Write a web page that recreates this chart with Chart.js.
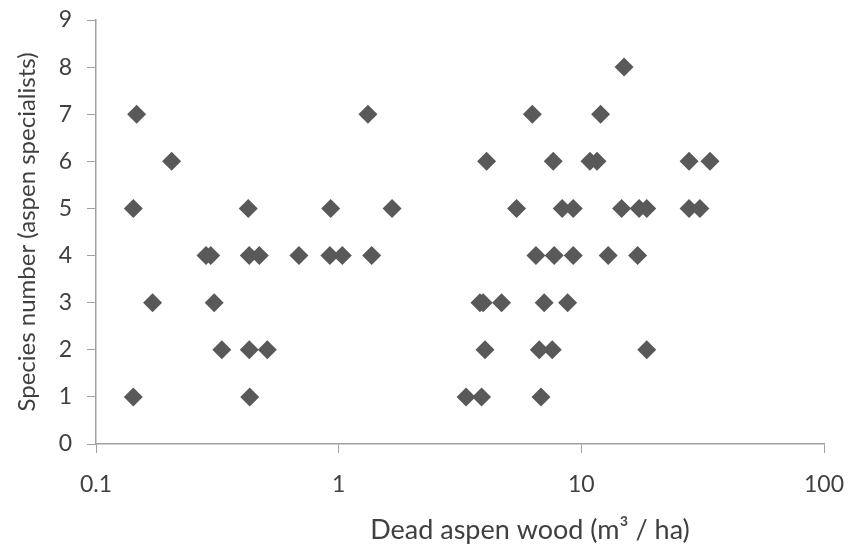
<!DOCTYPE html>
<html>
<head>
<meta charset="utf-8">
<title>Dead aspen wood vs species number</title>
<script src="https://cdn.jsdelivr.net/npm/chart.js@4/dist/chart.umd.min.js"></script>
<style>
  html, body { margin: 0; padding: 0; background: #fff; }
  #wrap { width: 848px; height: 550px; position: relative; }
</style>
</head>
<body>
<div id="wrap"><canvas id="chart"></canvas></div>
<script>
// Dead aspen wood (m3/ha), grouped by species number
const species8 = [15.0];
const species7 = [0.147, 1.32, 6.28, 12.0];
const species6 = [0.205, 4.07, 7.66, 10.85, 11.6, 27.8, 33.9];
const species5 = [0.1425, 0.424, 0.927, 1.66, 5.41, 8.34, 9.26, 14.66, 17.3, 18.6, 27.8, 30.8];
const species4 = [0.284, 0.297, 0.428, 0.471, 0.686, 0.92, 1.035, 1.368, 6.5, 7.73, 9.26, 12.9, 17.06];
const species3 = [0.171, 0.307, 3.82, 3.94, 4.69, 7.03, 8.78];
const species2 = [0.33, 0.428, 0.508, 4.01, 6.71, 7.59, 18.6];
const species1 = [0.1425, 0.43, 3.35, 3.88, 6.82];

const xTicks = [0.1, 1, 10, 100];
const yTicks = [0, 1, 2, 3, 4, 5, 6, 7, 8, 9];
const xTitle = 'Dead aspen wood (m³ / ha)';
const yTitle = 'Species number (aspen specialists)';

const groups = [
    { n: 1, wood: species1 },
    { n: 2, wood: species2 },
    { n: 3, wood: species3 },
    { n: 4, wood: species4 },
    { n: 5, wood: species5 },
    { n: 6, wood: species6 },
    { n: 7, wood: species7 },
    { n: 8, wood: species8 },
];

const points = [];
groups.forEach(g => {
    g.wood.forEach(w => points.push({ x: w, y: g.n }));
});

const fontFamily = 'Lato, "Open Sans", sans-serif';
const axisColor = '#a0a0a0';
const textColor = '#404040';

// The x title sits right of centre in the original, so draw it ourselves
const xTitlePlugin = {
    id: 'xTitle',
    afterDraw(chart) {
        const c = chart.ctx;
        c.save();
        c.font = `27px ${fontFamily}`;
        c.fillStyle = textColor;
        c.textAlign = 'center';
        c.textBaseline = 'middle';
        c.fillText(xTitle, chart.chartArea.left + 434, chart.chartArea.bottom + 86);
        c.restore();
    },
};

const ctx = document.getElementById('chart').getContext('2d');
new Chart(ctx, {
    type: 'scatter',
    data: {
        datasets: [
            {
                label: 'Species number',
                data: points,
                pointStyle: 'rectRot',
                pointRadius: 9.5,
                pointHoverRadius: 9.5,
                backgroundColor: '#595959',
                borderColor: '#595959',
                borderWidth: 0,
            },
        ],
    },
    options: {
        responsive: true,
        maintainAspectRatio: false,
        animation: false,
        layout: {
            padding: { top: 20, right: 24, left: 0, bottom: 0 },
        },
        plugins: {
            legend: { display: false },
            tooltip: { enabled: false },
        },
        scales: {
            x: {
                type: 'logarithmic',
                min: 0.1,
                max: 100,
                afterBuildTicks: scale => {
                    scale.ticks = xTicks.map(v => ({ value: v }));
                },
                afterFit: scale => {
                    scale.height = 106;
                    scale.paddingLeft = 0;
                    scale.paddingRight = 0;
                },
                ticks: {
                    color: textColor,
                    font: { family: fontFamily, size: 23 },
                    padding: 18,
                    maxRotation: 0,
                    autoSkip: false,
                    callback: v => String(v),
                },
                grid: {
                    drawOnChartArea: false,
                    drawTicks: true,
                    tickLength: 9,
                    color: axisColor,
                },
                border: { color: axisColor, width: 1.5 },
            },
            y: {
                min: 0,
                max: 9,
                afterBuildTicks: scale => {
                    scale.ticks = yTicks.map(v => ({ value: v }));
                },
                afterFit: scale => {
                    scale.width = 96;
                    scale.paddingTop = 0;
                    scale.paddingBottom = 0;
                },
                ticks: {
                    color: textColor,
                    font: { family: fontFamily, size: 23 },
                    padding: 15,
                    autoSkip: false,
                },
                grid: {
                    drawOnChartArea: false,
                    drawTicks: true,
                    tickLength: 9,
                    color: axisColor,
                },
                border: { color: axisColor, width: 1.5 },
                title: {
                    display: true,
                    text: yTitle,
                    color: textColor,
                    font: { family: fontFamily, size: 24 },
                    padding: { top: 13, bottom: 0 },
                },
            },
        },
    },
    plugins: [xTitlePlugin],
});
</script>
</body>
</html>
